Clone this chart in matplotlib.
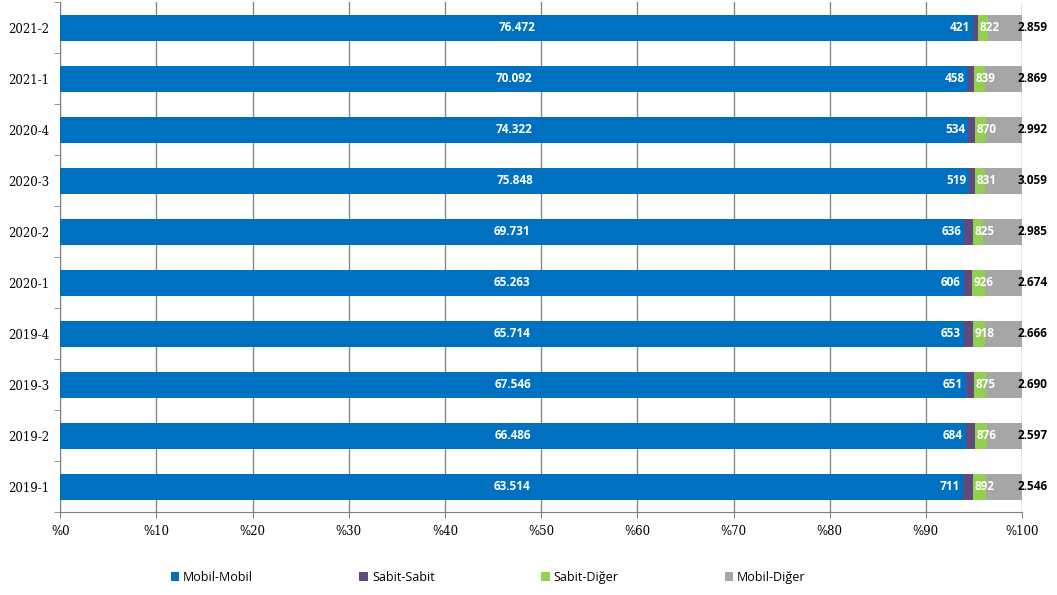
import matplotlib.pyplot as plt
import numpy as np

periods = ['2019-1', '2019-2', '2019-3', '2019-4', '2020-1',
           '2020-2', '2020-3', '2020-4', '2021-1', '2021-2']
mobil_mobil = [63514, 66486, 67546, 65714, 65263, 69731, 75848, 74322, 70092, 76472]
sabit_sabit = [711, 684, 651, 653, 606, 636, 519, 534, 458, 421]
sabit_diger = [892, 876, 875, 918, 926, 825, 831, 870, 839, 822]
mobil_diger = [2546, 2597, 2690, 2666, 2674, 2985, 3059, 2992, 2869, 2859]

names = ['Mobil-Mobil', 'Sabit-Sabit', 'Sabit-Diğer', 'Mobil-Diğer']
colors = ['#0070C0', '#604A7B', '#92D050', '#A6A6A6']


def fmt(v):
    return f'{v:,}'.replace(',', '.')


data = np.array([mobil_mobil, sabit_sabit, sabit_diger, mobil_diger], dtype=float)
pct = data / data.sum(axis=0) * 100
y = np.arange(len(periods))

fig = plt.figure(figsize=(10.57, 5.95), dpi=100)
ax = fig.add_axes([0.057, 0.139, 0.910, 0.857])

left = np.zeros(len(periods))
for i in range(4):
    ax.barh(y, pct[i], left=left, height=0.52, color=colors[i],
            label=names[i], zorder=3)
    left += pct[i]

lab = dict(fontsize=8.5, fontweight='bold', family='Open Sans', va='center', zorder=4)
for j in range(len(periods)):
    p0, p1, p2 = pct[0, j], pct[1, j], pct[2, j]
    ax.text(p0 / 2, y[j], fmt(mobil_mobil[j]), ha='center', color='white', **lab)
    ax.text(p0 - 0.3, y[j], fmt(sabit_sabit[j]), ha='right', color='white', **lab)
    ax.text(p0 + p1 + 0.15, y[j], fmt(sabit_diger[j]), ha='left', color='white', **lab)
    ax.text(99.5, y[j], fmt(mobil_diger[j]), ha='left', color='black', **lab)

ax.set_xlim(0, 100)
ax.set_ylim(-0.5, len(periods) - 0.5)
ax.set_xticks(np.arange(0, 101, 10))
ax.set_xticklabels(['%' + str(t) for t in range(0, 101, 10)],
                   family='DejaVu Serif', fontsize=8.5)
ax.set_yticks(y)
ax.set_yticklabels(periods, family='DejaVu Serif', fontsize=8.5)
ax.set_yticks(np.arange(-0.5, len(periods), 1), minor=True)
ax.tick_params(axis='y', which='major', length=0, pad=8)
ax.tick_params(axis='y', which='minor', length=4, color='#808080')
ax.tick_params(axis='x', length=4, color='#808080', pad=5)
ax.grid(axis='x', color='#888888', linewidth=1, zorder=0)
for s in ['top', 'right']:
    ax.spines[s].set_visible(False)
for s in ['left', 'bottom']:
    ax.spines[s].set_color('#808080')

ax.legend(loc='center', bbox_to_anchor=(0.445, -0.128), ncol=4, frameon=False,
          handlelength=0.7, handleheight=0.7, handletextpad=0.3,
          columnspacing=8.5, prop={'family': 'Open Sans', 'size': 9})

fig.savefig('out.png')
